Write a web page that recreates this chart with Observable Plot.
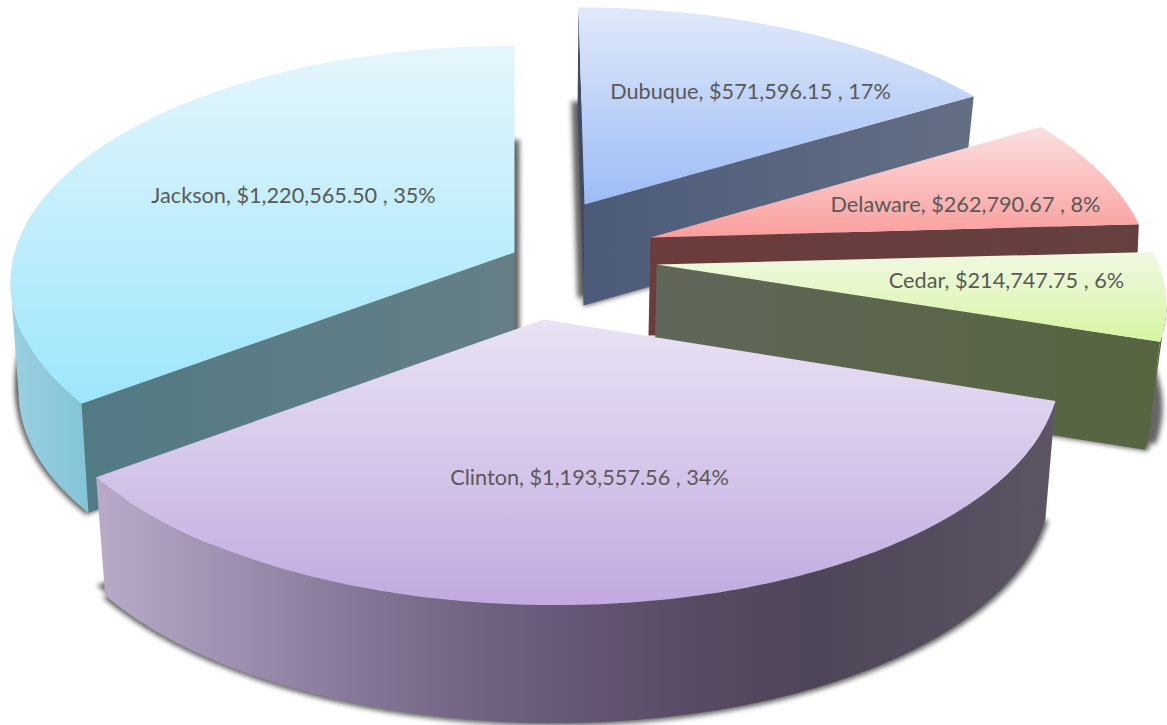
<!DOCTYPE html>
<html>
<head>
<meta charset="utf-8">
<script src="https://cdn.jsdelivr.net/npm/d3@7"></script>
<script src="https://cdn.jsdelivr.net/npm/@observablehq/plot@0.6"></script>
<style>
html,body{margin:0;padding:0;background:#fff}
svg{display:block}
g[fill="#666666"]{filter:blur(2.6px)}
</style>
</head>
<body>
<div id="chart"></div>
<script>
// Data, clockwise from twelve o'clock
const counties = ["Dubuque", "Delaware", "Cedar", "Clinton", "Jackson"];
const amounts = [571596.15, 262790.67, 214747.75, 1193557.56, 1220565.50];

// Projection of each exploded slice: apex, radii, perspective, wall height, shadow
const layout = {
  Dubuque:  {ox:584, oy:204, rx:497, ry:232, k:.177, sk:7,   h:101, oxb:583, rxb:485, sh:[-7,94,1]},
  Delaware: {ox:650, oy:237, rx:494, ry:237, k:.177, sk:0,   h:98,  oxb:648, rxb:492, sh:[0,90,1]},
  Cedar:    {ox:656, oy:264, rx:502, ry:223, k:.177, sk:0,   h:108, oxb:654, rxb:489, sh:[-4,102,1]},
  Clinton:  {ox:543, oy:319, rx:507, ry:235, k:.177, sk:9.6, h:118, oxb:543, rxb:497, sh:[-6,108,.985]},
  Jackson:  {ox:514, oy:252, rx:500, ry:233, k:.127, sk:0,   h:109, oxb:514, rxb:492, sh:[5,94,1]}
};
const drawOrder = ["Dubuque", "Delaware", "Cedar", "Jackson", "Clinton"];
const labelAt = {Dubuque:[750,92], Delaware:[965,205], Cedar:[1006,281], Jackson:[293,196], Clinton:[589,478]};
const topStops = {
  Dubuque:["#e0e9fa","#9dbcf6"], Delaware:["#fae0e0","#fb9e9d"], Cedar:["#f1f8e3","#d6f6a2"],
  Jackson:["#e5f6fb","#9de6fc"], Clinton:["#e9e3f4","#c2aae0"]
};
const wallStops = {
  dubuque:["#4b5b79","#646f84"], delaware:["#6c3b3b","#644140"], cedar:["#61665a","#566540"],
  jacksonEdge:["#527a85","#667f87"], jacksonRim:["#9ad0e1","#84c4d7"],
  clintonRim:["#b9abc8","#a292b3","#8a7a9b","#766686","#665675","#584a63","#4f4558","#554d5d","#5d5564"]
};
const sliverColor = "#3f4c63";

// Angles from the values
const total = d3.sum(amounts);
let acc = 0;
const slices = new Map(counties.map((name, i) => {
  const a0 = acc / total * 2 * Math.PI; acc += amounts[i];
  return [name, {name, value: amounts[i], a0, a1: acc / total * 2 * Math.PI}];
}));

const pt = (p, a, level) => {
  const s = Math.sin(a), c = Math.cos(a), den = 1 + p.k * c;
  const bottom = level === "bottom";
  return {
    x: (bottom ? p.oxb : p.ox) + ((bottom ? p.rxb : p.rx) * s - p.sk * c) / den,
    y: p.oy + (bottom ? p.h : 0) - p.ry * c / den
  };
};
const apex = (p, level) => level === "bottom" ? {x:p.oxb, y:p.oy + p.h} : {x:p.ox, y:p.oy};
const arc = (p, a0, a1, level) => {
  const n = Math.max(2, Math.ceil(Math.abs(a1 - a0) * 60));
  return d3.range(n + 1).map(i => pt(p, a0 + (a1 - a0) * i / n, level));
};
const sector = (p, a0, a1, level) => [apex(p, level), ...arc(p, a0, a1, level)];
const radialWall = (p, a) => [apex(p), pt(p, a), pt(p, a, "bottom"), apex(p, "bottom")];
const rimWall = (p, a0, a1) => [...arc(p, a0, a1), ...arc(p, a1, a0, "bottom")];
// Angles at which the rim turns away from the viewer
const rightTurn = p => Math.acos(-p.k);
const leftTurn = p => 2 * Math.PI - Math.acos(-p.k);
const poly = (pts, fill) =>
  Plot.line(pts, {x:"x", y:"y", fill, stroke:"none", curve:"linear-closed"});

const gradient = (id, colors, horizontal) => {
  const g = d3.create("svg:linearGradient").attr("id", id)
    .attr("x1", 0).attr("y1", 0).attr("x2", horizontal ? 1 : 0).attr("y2", horizontal ? 0 : 1);
  colors.forEach((c, i) => g.append("stop").attr("offset", i / (colors.length - 1)).attr("stop-color", c));
  return g.node();
};
const defs = () => {
  const d = d3.create("svg:defs");
  for (const n of counties) d.append(() => gradient("top" + n, topStops[n], false));
  for (const n in wallStops) d.append(() => gradient(n, wallStops[n], true));
  return d.node();
};

const wallsOf = {
  Dubuque: () => {
    const p = layout.Dubuque, s = slices.get("Dubuque");
    return [poly(radialWall(p, s.a0), sliverColor), poly(radialWall(p, s.a1), "url(#dubuque)")];
  },
  Delaware: () => {
    const p = layout.Delaware, s = slices.get("Delaware");
    return [poly(radialWall(p, s.a1), "url(#delaware)")];
  },
  Cedar: () => {
    const p = layout.Cedar, s = slices.get("Cedar");
    return [poly(radialWall(p, s.a1), "url(#cedar)"), poly(rimWall(p, rightTurn(p), s.a1), "#566540")];
  },
  Jackson: () => {
    const p = layout.Jackson, s = slices.get("Jackson");
    return [poly(radialWall(p, s.a0), "url(#jacksonEdge)"), poly(rimWall(p, s.a0, leftTurn(p)), "url(#jacksonRim)")];
  },
  Clinton: () => {
    const p = layout.Clinton, s = slices.get("Clinton");
    return [poly(rimWall(p, s.a0, s.a1), "url(#clintonRim)")];
  }
};

const shadowFill = "#666666";
const shadowMarks = drawOrder.flatMap(n => {
  const p = layout[n], s = slices.get(n), [dx, dy, f] = p.sh;
  const moved = sector(p, s.a0, s.a1).map(q => ({x:p.ox + (q.x - p.ox) * f + dx, y:q.y + dy}));
  const b = apex(p, "bottom");
  const under = sector(p, s.a0, s.a1, "bottom").map(q => ({x:b.x + (q.x - b.x) * 1.006, y:b.y + (q.y - b.y) * 1.006 + 1}));
  return [poly(moved, shadowFill), poly(under, shadowFill)];
});

const sliceMarks = drawOrder.flatMap(n => {
  const p = layout[n], s = slices.get(n);
  return [...wallsOf[n](), poly(sector(p, s.a0, s.a1), `url(#top${n})`)];
});

const labels = counties.map(n => {
  const s = slices.get(n);
  return {
    x: labelAt[n][0], y: labelAt[n][1],
    text: `${n}, ${d3.format("$,.2f")(s.value)} , ${Math.round(s.value / total * 100)}%`
  };
});

const chart = Plot.plot({
  width: 1167, height: 725, margin: 0,
  x: {domain: [0, 1167], range: [0, 1167], axis: null},
  y: {domain: [0, 725], range: [0, 725], axis: null},
  style: {background: "transparent"},
  marks: [
    defs,
    ...shadowMarks,
    ...sliceMarks,
    Plot.text(labels, {x:"x", y:"y", text:"text", fontSize:21.7, fontFamily:"Lato, sans-serif", fill:"#595959", textAnchor:"middle"})
  ]
});
document.getElementById("chart").append(chart);
</script>
</body>
</html>
